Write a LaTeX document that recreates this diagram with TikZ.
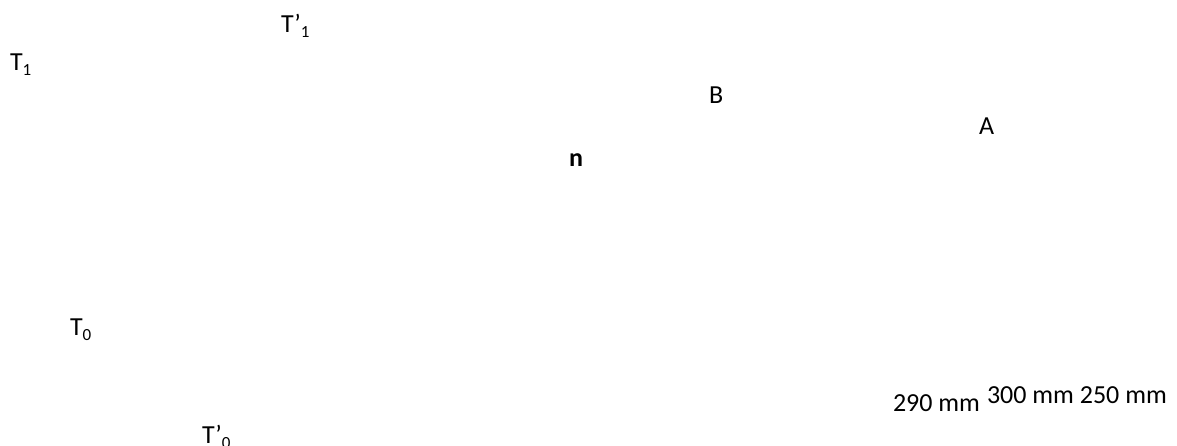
\documentclass[tikz,border=0pt]{standalone}
\usepackage{fontspec}
\setmainfont{Carlito}
\newcommand{\lowsub}[1]{\raisebox{-5pt}{\fontsize{17}{17}\selectfont #1}}
\begin{document}
\begin{tikzpicture}[x=1pt,y=-1pt,
  lbl/.style={anchor=base west,inner sep=0pt,outer sep=0pt,font=\fontsize{26}{30}\selectfont}]
\useasboundingbox (0,0) rectangle (1177,446);
\node[lbl] (t1p) at (281,33) {T’\lowsub{1}};
\node[lbl] (t1) at (10,71) {T\lowsub{1}};
\node[lbl] (b) at (709,104) {B};
\node[lbl] (a) at (979,135) {A};
\node[lbl,font=\fontsize{26}{30}\selectfont\bfseries] (n) at (569,167) {n};
\node[lbl] (t0) at (70,335) {T\lowsub{0}};
\node[lbl] (t0p) at (202,443) {T’\lowsub{0}};
\node[lbl] (d290) at (893,411) {290 mm};
\node[lbl] (d300) at (987,403) {300 mm 250 mm};
\end{tikzpicture}
\end{document}
